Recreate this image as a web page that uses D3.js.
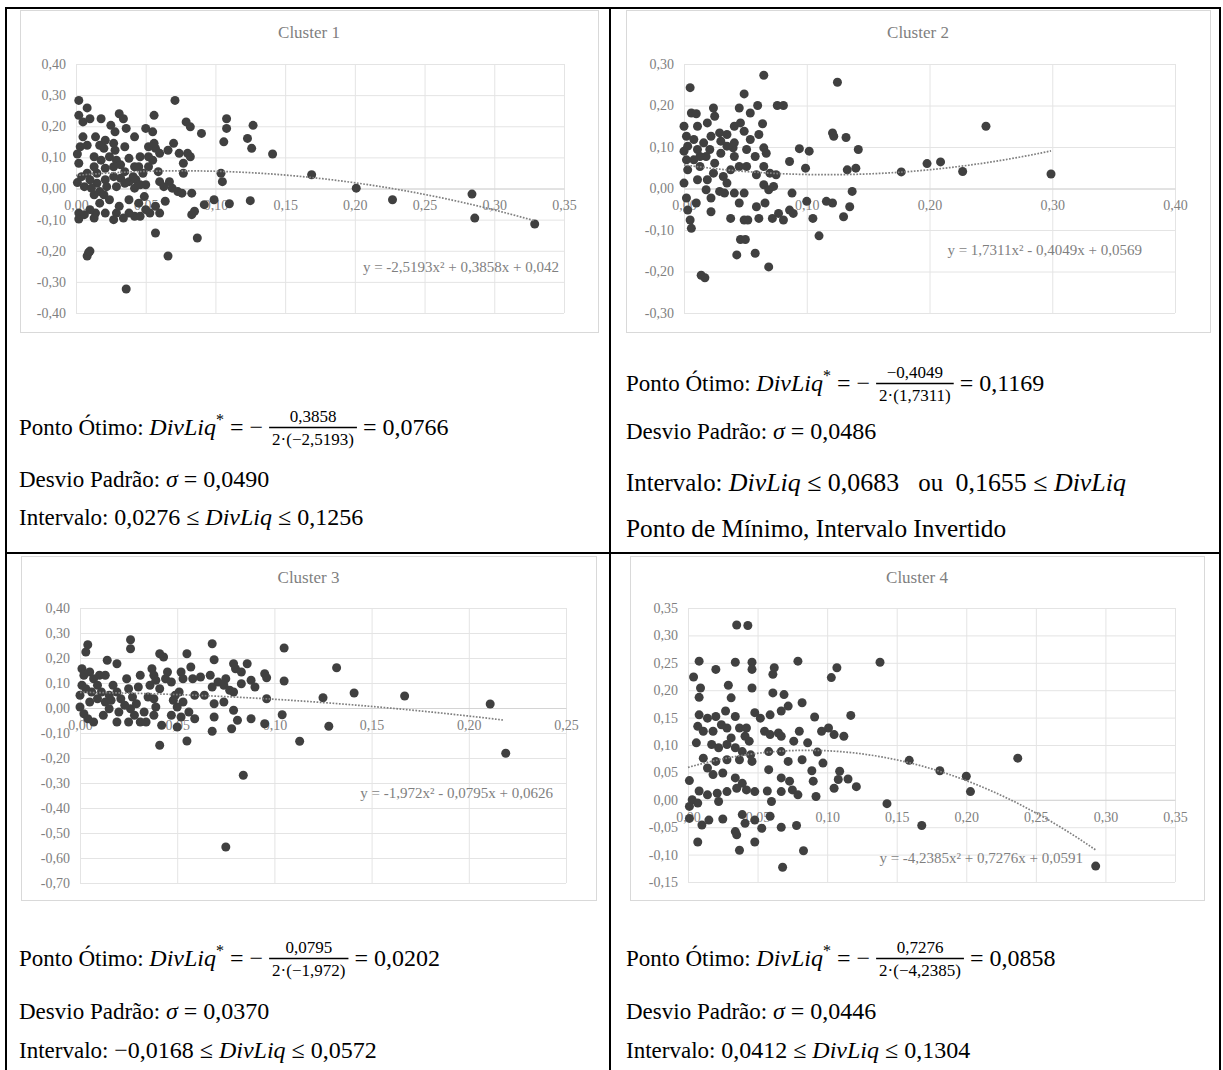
<!DOCTYPE html>
<html>
<head>
<meta charset="utf-8">
<script src="https://cdn.jsdelivr.net/npm/d3@7"></script>
<style>
body { margin: 0; background: #fff; }
text { font-family: "Liberation Serif", "Times New Roman", serif; white-space: pre; }
.tick text { fill: #7f7f7f; font-size: 14px; }
</style>
</head>
<body>
<svg id="chart" width="1223" height="1070"></svg>
<script>
// ---- data ----
const cluster1 = [
[0.002,0.283],[0.008,0.259],[0.002,0.235],[0.005,0.214],[0.010,0.224],[0.018,0.224],[0.005,0.166],[0.008,0.139],[0.001,0.111],[0.002,0.081],
[0.001,0.019],[0.002,-0.079],[0.002,-0.098],[0.009,-0.206],[0.008,-0.217],[0.010,-0.201],[0.025,0.203],[0.028,0.182],[0.031,0.240],[0.034,0.224],
[0.036,0.193],[0.042,0.166],[0.017,0.139],[0.020,0.129],[0.028,0.123],[0.035,0.134],[0.013,0.102],[0.018,0.091],[0.024,0.102],[0.029,0.091],
[0.013,0.070],[0.008,0.049],[0.015,0.049],[0.021,0.065],[0.027,0.070],[0.032,0.076],[0.038,0.097],[0.042,0.070],[0.046,0.102],[0.052,0.134],
[0.056,0.235],[0.050,0.193],[0.055,0.182],[0.057,0.129],[0.060,0.113],[0.055,0.091],[0.052,0.070],[0.048,0.049],[0.043,0.028],[0.038,0.022],
[0.032,0.033],[0.027,0.038],[0.021,0.028],[0.015,0.017],[0.010,0.028],[0.004,0.038],[0.006,0.006],[0.011,0.001],[0.017,-0.010],[0.022,0.006],
[0.029,0.006],[0.035,0.017],[0.042,0.001],[0.046,0.012],[0.013,-0.020],[0.020,-0.020],[0.049,-0.026],[0.059,0.054],[0.060,0.022],[0.067,0.022],
[0.069,0.001],[0.073,-0.010],[0.076,-0.015],[0.083,-0.015],[0.064,-0.041],[0.060,-0.079],[0.053,-0.079],[0.050,-0.068],[0.042,-0.089],[0.038,-0.079],
[0.034,-0.095],[0.029,-0.079],[0.027,-0.100],[0.031,-0.057],[0.021,-0.079],[0.014,-0.079],[0.013,-0.095],[0.006,-0.084],[0.010,-0.068],[0.070,0.145],
[0.066,0.123],[0.074,0.113],[0.071,0.283],[0.079,0.214],[0.082,0.198],[0.080,0.113],[0.082,0.102],[0.077,0.081],[0.090,0.177],[0.083,-0.084],
[0.085,-0.073],[0.092,-0.052],[0.099,-0.036],[0.104,0.049],[0.105,0.022],[0.106,0.150],[0.108,0.193],[0.108,0.224],[0.110,-0.049],[0.087,-0.159],
[0.066,-0.217],[0.057,-0.143],[0.036,-0.323],[0.123,0.161],[0.126,0.129],[0.127,0.203],[0.125,-0.039],[0.141,0.111],[0.169,0.044],[0.201,0.001],
[0.227,-0.036],[0.284,-0.018],[0.286,-0.095],[0.329,-0.114],[0.041,0.038],[0.035,0.054],[0.045,0.070],[0.052,0.102],[0.056,0.145],[0.021,0.155],
[0.027,0.145],[0.014,0.166],[0.003,0.134],[0.024,-0.036],[0.017,-0.047],[0.038,-0.036],[0.045,-0.047],[0.046,-0.089],[0.057,-0.057],[0.063,0.006],
[0.077,0.049],[0.050,0.012]
];
const cluster2 = [
[0.005,0.243],[0.065,0.273],[0.125,0.256],[0.049,0.228],[0.006,0.182],[0.010,0.180],[0.024,0.194],[0.045,0.194],[0.060,0.200],[0.076,0.200],
[0.081,0.200],[0.054,0.182],[0.011,0.150],[0.019,0.158],[0.025,0.174],[0.064,0.156],[0.041,0.150],[0.049,0.138],[0.061,0.130],[0.000,0.150],
[0.002,0.126],[0.003,0.102],[0.000,0.090],[0.002,0.069],[0.003,0.045],[0.000,0.013],[0.008,0.118],[0.011,0.094],[0.008,0.069],[0.013,0.053],
[0.018,0.077],[0.016,0.110],[0.022,0.126],[0.029,0.134],[0.035,0.130],[0.021,0.094],[0.025,0.061],[0.024,0.037],[0.032,0.029],[0.038,0.045],
[0.041,0.077],[0.040,0.098],[0.035,0.102],[0.030,0.114],[0.041,0.110],[0.045,0.053],[0.051,0.053],[0.058,0.077],[0.065,0.098],[0.067,0.085],
[0.065,0.053],[0.059,0.033],[0.070,0.037],[0.075,0.033],[0.065,0.009],[0.069,-0.003],[0.073,0.005],[0.018,-0.003],[0.022,-0.023],[0.029,-0.007],
[0.033,-0.011],[0.041,-0.011],[0.049,-0.011],[0.002,-0.023],[0.003,-0.052],[0.005,-0.076],[0.006,-0.096],[0.010,-0.035],[0.022,-0.056],[0.038,-0.072],
[0.045,-0.035],[0.049,-0.076],[0.052,-0.076],[0.059,-0.044],[0.061,-0.072],[0.066,-0.035],[0.072,-0.072],[0.077,-0.060],[0.081,-0.076],[0.086,-0.052],
[0.089,-0.060],[0.088,-0.011],[0.086,0.065],[0.094,0.096],[0.102,0.090],[0.099,0.049],[0.100,-0.031],[0.105,-0.072],[0.110,-0.114],[0.116,-0.031],
[0.121,-0.035],[0.121,0.134],[0.122,0.126],[0.132,0.123],[0.142,0.094],[0.133,0.045],[0.140,0.049],[0.137,-0.007],[0.135,-0.044],[0.130,-0.068],
[0.046,-0.123],[0.050,-0.123],[0.043,-0.160],[0.058,-0.156],[0.069,-0.189],[0.014,-0.209],[0.017,-0.215],[0.177,0.040],[0.198,0.060],[0.209,0.064],
[0.227,0.041],[0.246,0.150],[0.299,0.035],[0.013,0.077],[0.019,0.021],[0.030,0.085],[0.011,0.021],[0.035,0.013],[0.051,0.094],[0.054,0.118],
[0.046,0.158]
];
const cluster3 = [
[0.004,0.253],[0.003,0.224],[0.026,0.273],[0.026,0.237],[0.041,0.217],[0.043,0.204],[0.055,0.217],[0.068,0.257],[0.069,0.193],[0.105,0.240],
[0.132,0.161],[0.014,0.191],[0.019,0.177],[0.001,0.157],[0.002,0.131],[0.001,0.091],[0.000,0.051],[0.000,0.004],[0.002,-0.023],[0.004,-0.043],
[0.007,-0.056],[0.005,0.144],[0.007,0.117],[0.009,0.091],[0.006,0.064],[0.009,0.037],[0.005,0.024],[0.010,0.131],[0.013,0.131],[0.013,0.024],
[0.012,-0.029],[0.015,-0.003],[0.017,0.091],[0.019,0.064],[0.021,0.037],[0.019,-0.056],[0.020,-0.016],[0.024,0.117],[0.025,0.077],[0.026,-0.003],
[0.025,-0.056],[0.028,-0.029],[0.030,0.084],[0.031,0.131],[0.031,-0.056],[0.033,-0.016],[0.034,-0.056],[0.036,0.091],[0.037,0.157],[0.038,0.131],
[0.039,0.111],[0.038,0.037],[0.038,-0.029],[0.039,0.004],[0.041,0.077],[0.042,-0.069],[0.041,-0.149],[0.044,0.117],[0.045,0.144],[0.047,-0.029],
[0.048,0.031],[0.049,0.051],[0.050,0.004],[0.050,-0.076],[0.052,-0.036],[0.052,0.144],[0.053,0.117],[0.055,-0.132],[0.056,-0.016],[0.057,0.164],
[0.058,0.117],[0.059,-0.043],[0.062,0.124],[0.064,0.051],[0.067,0.131],[0.068,0.084],[0.069,-0.036],[0.069,0.017],[0.068,-0.093],[0.071,0.104],
[0.074,0.091],[0.074,0.024],[0.075,0.117],[0.077,0.071],[0.078,-0.083],[0.079,0.177],[0.079,-0.009],[0.080,0.157],[0.081,-0.049],[0.083,0.144],
[0.083,0.097],[0.084,-0.269],[0.086,0.177],[0.088,0.111],[0.088,-0.043],[0.090,0.084],[0.095,0.137],[0.096,0.121],[0.096,0.037],[0.095,-0.063],
[0.104,-0.027],[0.105,0.108],[0.113,-0.133],[0.125,0.041],[0.128,-0.073],[0.141,0.060],[0.167,0.048],[0.211,0.016],[0.219,-0.181],[0.075,-0.556],
[0.003,0.077],[0.011,0.064],[0.015,0.051],[0.016,0.031],[0.027,0.044],[0.029,0.017],[0.023,0.011],[0.035,0.044],[0.047,0.104],[0.051,0.064],
[0.059,0.051],[0.053,0.024],[0.079,0.064]
];
const cluster4 = [
[0.035,0.319],[0.043,0.318],[0.008,0.253],[0.020,0.238],[0.034,0.251],[0.046,0.251],[0.046,0.238],[0.062,0.241],[0.061,0.229],[0.079,0.253],
[0.107,0.241],[0.103,0.223],[0.138,0.251],[0.004,0.224],[0.009,0.204],[0.008,0.187],[0.029,0.209],[0.031,0.186],[0.046,0.204],[0.061,0.195],
[0.069,0.192],[0.072,0.171],[0.082,0.177],[0.091,0.151],[0.117,0.154],[0.008,0.155],[0.014,0.149],[0.020,0.152],[0.027,0.162],[0.034,0.152],
[0.048,0.159],[0.052,0.149],[0.059,0.155],[0.067,0.162],[0.007,0.134],[0.011,0.125],[0.006,0.104],[0.018,0.125],[0.024,0.137],[0.028,0.131],
[0.031,0.113],[0.037,0.131],[0.042,0.131],[0.041,0.116],[0.044,0.107],[0.055,0.125],[0.059,0.119],[0.065,0.122],[0.067,0.116],[0.076,0.107],
[0.080,0.125],[0.086,0.104],[0.096,0.125],[0.101,0.131],[0.105,0.119],[0.112,0.116],[0.017,0.101],[0.022,0.095],[0.028,0.101],[0.034,0.095],
[0.039,0.088],[0.045,0.082],[0.011,0.076],[0.020,0.070],[0.028,0.073],[0.037,0.073],[0.046,0.070],[0.058,0.088],[0.067,0.088],[0.072,0.070],
[0.082,0.073],[0.093,0.087],[0.097,0.067],[0.014,0.058],[0.018,0.046],[0.025,0.049],[0.034,0.040],[0.039,0.030],[0.058,0.055],[0.067,0.040],
[0.073,0.034],[0.089,0.053],[0.090,0.034],[0.109,0.052],[0.108,0.037],[0.115,0.038],[0.105,0.021],[0.121,0.024],[0.001,0.035],[0.008,0.016],
[0.014,0.009],[0.021,0.012],[0.028,0.015],[0.035,0.021],[0.042,0.018],[0.048,0.015],[0.057,0.016],[0.067,0.015],[0.075,0.018],[0.079,0.009],
[0.092,0.006],[0.003,0.000],[0.001,-0.012],[0.007,-0.006],[0.022,-0.003],[0.060,-0.003],[0.143,-0.007],[0.159,0.072],[0.181,0.053],[0.200,0.043],
[0.203,0.015],[0.237,0.076],[0.168,-0.047],[0.001,-0.034],[0.010,-0.046],[0.015,-0.037],[0.025,-0.035],[0.039,-0.027],[0.041,-0.043],[0.048,-0.037],
[0.053,-0.052],[0.059,-0.030],[0.067,-0.050],[0.078,-0.047],[0.007,-0.077],[0.035,-0.064],[0.037,-0.092],[0.048,-0.077],[0.083,-0.093],[0.068,-0.123],
[0.293,-0.121],[0.034,-0.058]
];

const xTicks1 = [0, 0.05, 0.10, 0.15, 0.20, 0.25, 0.30, 0.35];
const yTicks1 = [-0.40, -0.30, -0.20, -0.10, 0, 0.10, 0.20, 0.30, 0.40];
const xTicks2 = [0, 0.10, 0.20, 0.30, 0.40];
const yTicks2 = [-0.30, -0.20, -0.10, 0, 0.10, 0.20, 0.30];
const xTicks3 = [0, 0.05, 0.10, 0.15, 0.20, 0.25];
const yTicks3 = [-0.70, -0.60, -0.50, -0.40, -0.30, -0.20, -0.10, 0, 0.10, 0.20, 0.30, 0.40];
const xTicks4 = [0, 0.05, 0.10, 0.15, 0.20, 0.25, 0.30, 0.35];
const yTicks4 = [-0.15, -0.10, -0.05, 0, 0.05, 0.10, 0.15, 0.20, 0.25, 0.30, 0.35];

// polynomial trendlines: [a, b, c] for y = a x^2 + b x + c, and fitted x range
const fit1 = [-2.5193, 0.3858, 0.042], fitRange1 = [0, 0.329];
const fit2 = [1.7311, -0.4049, 0.0569], fitRange2 = [0, 0.299];
const fit3 = [-1.972, -0.0795, 0.0626], fitRange3 = [0, 0.218];
const fit4 = [-4.2385, 0.7276, 0.0591], fitRange4 = [0, 0.293];
const eqLabels = [
  "y = -2,5193x² + 0,3858x + 0,042",
  "y = 1,7311x² - 0,4049x + 0,0569",
  "y = -1,972x² - 0,0795x + 0,0626",
  "y = -4,2385x² + 0,7276x + 0,0591"
];
const titles = ["Cluster 1", "Cluster 2", "Cluster 3", "Cluster 4"];

// text under each chart: [kind, text]; kind: t text, i math italic, n math upright, s superscript, f fraction
const notes1 = [
  [["t","Ponto Ótimo: "],["i","DivLiq"],["s","*"],["n"," = − "],["f","0,3858","2·(−2,5193)"],["n"," = 0,0766"]],
  [["t","Desvio Padrão: "],["i","σ"],["n"," = 0,0490"]],
  [["t","Intervalo: "],["n","0,0276 ≤ "],["i","DivLiq"],["n"," ≤ 0,1256"]]
];
const notes2 = [
  [["t","Ponto Ótimo: "],["i","DivLiq"],["s","*"],["n"," = − "],["f","−0,4049","2·(1,7311)"],["n"," = 0,1169"]],
  [["t","Desvio Padrão: "],["i","σ"],["n"," = 0,0486"]],
  [["t","Intervalo: "],["i","DivLiq"],["n"," ≤ 0,0683  "],["t"," ou  "],["n","0,1655 ≤ "],["i","DivLiq"]],
  [["t","Ponto de Mínimo, Intervalo Invertido"]]
];
const notes3 = [
  [["t","Ponto Ótimo: "],["i","DivLiq"],["s","*"],["n"," = − "],["f","0,0795","2·(−1,972)"],["n"," = 0,0202"]],
  [["t","Desvio Padrão: "],["i","σ"],["n"," = 0,0370"]],
  [["t","Intervalo: "],["n","−0,0168 ≤ "],["i","DivLiq"],["n"," ≤ 0,0572"]]
];
const notes4 = [
  [["t","Ponto Ótimo: "],["i","DivLiq"],["s","*"],["n"," = − "],["f","0,7276","2·(−4,2385)"],["n"," = 0,0858"]],
  [["t","Desvio Padrão: "],["i","σ"],["n"," = 0,0446"]],
  [["t","Intervalo: "],["n","0,0412 ≤ "],["i","DivLiq"],["n"," ≤ 0,1304"]]
];

// ---- layout ----
const panels = [
  { pts: cluster1, xt: xTicks1, yt: yTicks1, fit: fit1, fr: fitRange1, title: titles[0], eq: eqLabels[0],
    frame: [20, 10, 598, 332], plot: [76, 64, 564, 313], titleY: 38, eqX: 559, eqY: 272,
    notes: notes1, nx: 19, ny: [435, 487, 525], ns: [1, 1, 1] },
  { pts: cluster2, xt: xTicks2, yt: yTicks2, fit: fit2, fr: fitRange2, title: titles[1], eq: eqLabels[1],
    frame: [626, 10, 1210, 332], plot: [684, 64, 1175, 313], titleY: 38, eqX: 1142, eqY: 255,
    notes: notes2, nx: 626, ny: [391, 439, 491, 537], ns: [1, 1, 1.08, 1.1] },
  { pts: cluster3, xt: xTicks3, yt: yTicks3, fit: fit3, fr: fitRange3, title: titles[2], eq: eqLabels[2],
    frame: [21, 556, 596, 900], plot: [80, 608, 566, 883], titleY: 583, eqX: 553, eqY: 798,
    notes: notes3, nx: 19, ny: [966, 1019, 1058], ns: [1, 1, 1] },
  { pts: cluster4, xt: xTicks4, yt: yTicks4, fit: fit4, fr: fitRange4, title: titles[3], eq: eqLabels[3],
    frame: [630, 556, 1204, 900], plot: [688, 608, 1175, 882], titleY: 583, eqX: 1083, eqY: 863,
    notes: notes4, nx: 626, ny: [966, 1019, 1058], ns: [1, 1, 1] }
];
const baseSize = { t: 23, i: 24, n: 24, s: 16, f: 17 };

const svg = d3.select("#chart");
svg.append("rect").attr("width", 1223).attr("height", 1070).attr("fill", "#fff");

const fmt = v => (v < 0 ? "-" : "") + Math.abs(v).toFixed(2).replace(".", ",");

function drawPanel(p) {
  const g = svg.append("g");
  const [fx0, fy0, fx1, fy1] = p.frame;
  const [px0, py0, px1, py1] = p.plot;

  g.append("rect")
    .attr("x", fx0 + 0.5).attr("y", fy0 + 0.5)
    .attr("width", fx1 - fx0).attr("height", fy1 - fy0)
    .attr("fill", "#fff").attr("stroke", "#d9d9d9");

  g.append("text")
    .attr("x", (fx0 + fx1) / 2).attr("y", p.titleY)
    .attr("text-anchor", "middle")
    .style("font-size", "17px").style("fill", "#7f7f7f")
    .text(p.title);

  const x = d3.scaleLinear().domain(d3.extent(p.xt)).range([px0, px1]);
  const y = d3.scaleLinear().domain(d3.extent(p.yt)).range([py1, py0]);

  // horizontal grid + y labels
  const ya = g.append("g")
    .attr("transform", `translate(${px0},0)`)
    .call(d3.axisLeft(y).tickValues(p.yt).tickSize(-(px1 - px0)).tickPadding(10).tickFormat(fmt));
  ya.select(".domain").remove();
  ya.selectAll("line").attr("stroke", "#e4e4e4");

  // vertical grid
  const xg = g.append("g")
    .attr("transform", `translate(0,${py1})`)
    .call(d3.axisBottom(x).tickValues(p.xt).tickSize(-(py1 - py0)).tickFormat(""));
  xg.select(".domain").remove();
  xg.selectAll("line").attr("stroke", "#e4e4e4");

  // x labels along y = 0
  const xa = g.append("g")
    .attr("transform", `translate(0,${y(0)})`)
    .call(d3.axisBottom(x).tickValues(p.xt).tickSize(0).tickPadding(12).tickFormat(fmt));
  xa.select(".domain").attr("stroke", "#d4d4d4");

  // points
  g.append("g").selectAll("circle")
    .data(p.pts)
    .enter()
    .append("circle")
    .attr("cx", d => x(d[0]))
    .attr("cy", d => y(d[1]))
    .attr("r", 4.5)
    .attr("fill", "#404040");

  // trendline
  const [a, b, c] = p.fit;
  const xs = d3.range(p.fr[0], p.fr[1], (p.fr[1] - p.fr[0]) / 80).concat([p.fr[1]]);
  const line = d3.line().x(d => x(d)).y(d => y(a * d * d + b * d + c));
  g.append("path")
    .datum(xs)
    .attr("d", line)
    .attr("fill", "none")
    .attr("stroke", "#808080")
    .attr("stroke-width", 1.7)
    .attr("stroke-dasharray", "1.7,1.5");

  g.append("text")
    .attr("x", p.eqX).attr("y", p.eqY)
    .attr("text-anchor", "end")
    .style("font-size", "15px").style("fill", "#7f7f7f")
    .text(p.eq);

  // notes under the chart
  p.notes.forEach((row, i) => drawRow(p.nx, p.ny[i], row, p.ns[i]));
}

function drawRow(x0, base, row, k) {
  const g = svg.append("g");
  let cx = x0;
  row.forEach(seg => {
    const kind = seg[0];
    const size = baseSize[kind] * k;
    if (kind === "f") {
      const num = g.append("text").attr("text-anchor", "middle").style("font-size", size + "px").text(seg[1]);
      const den = g.append("text").attr("text-anchor", "middle").style("font-size", size + "px").text(seg[2]);
      const w = Math.max(num.node().getComputedTextLength(), den.node().getComputedTextLength()) + 6;
      num.attr("x", cx + w / 2).attr("y", base - 13);
      den.attr("x", cx + w / 2).attr("y", base + 10);
      g.append("line")
        .attr("x1", cx).attr("x2", cx + w)
        .attr("y1", base - 7.5).attr("y2", base - 7.5)
        .attr("stroke", "#000").attr("stroke-width", 1.3);
      cx += w;
    } else {
      const t = g.append("text")
        .attr("x", cx)
        .attr("y", kind === "s" ? base - 10 : base)
        .style("font-size", size + "px")
        .style("font-style", kind === "i" ? "italic" : null)
        .text(seg[1]);
      cx += t.node().getComputedTextLength();
    }
  });
}

panels.forEach(drawPanel);

// table rules
const rules = [
  [5, 8, 1221, 8], [5, 553, 1221, 553],
  [6, 7, 6, 1070], [610, 7, 610, 1070], [1220, 7, 1220, 1070]
];
svg.append("g").selectAll("line")
  .data(rules)
  .enter()
  .append("line")
  .attr("x1", d => d[0]).attr("y1", d => d[1])
  .attr("x2", d => d[2]).attr("y2", d => d[3])
  .attr("stroke", "#000")
  .attr("stroke-width", 2);
</script>
</body>
</html>
